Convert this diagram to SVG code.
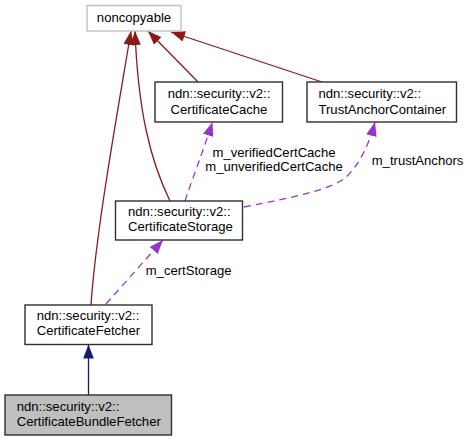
<svg xmlns="http://www.w3.org/2000/svg" width="470" height="441" viewBox="0 0 470 441">
<style>
text{font-family:"Liberation Sans",Arial,sans-serif;font-size:13.1px;fill:#000}
.box{fill:#fff;stroke:#303030;stroke-width:1.4}
.gray{fill:#fff;stroke:#bfbfbf;stroke-width:1.4}
.sel{fill:#bfbfbf;stroke:#303030;stroke-width:1.4}
.inh{fill:none;stroke:#8b1a1a;stroke-width:1.3}
.blue{fill:none;stroke:#191970;stroke-width:1.3}
.use{fill:none;stroke:#9a32cd;stroke-width:1.3;stroke-dasharray:7,5}
.m{text-anchor:middle}
</style>
<defs>
<marker id="ar" markerUnits="userSpaceOnUse" markerWidth="14" markerHeight="11" refX="14" refY="5.3" orient="auto"><path d="M0,0 L14,5.3 L0,10.6 z" fill="#8b1a1a"/></marker>
<marker id="ab" markerUnits="userSpaceOnUse" markerWidth="14" markerHeight="11" refX="14" refY="5.3" orient="auto"><path d="M0,0 L14,5.3 L0,10.6 z" fill="#191970"/></marker>
<marker id="ap" markerUnits="userSpaceOnUse" markerWidth="14" markerHeight="11" refX="14" refY="5.3" orient="auto"><path d="M0,0 L14,5.3 L0,10.6 z" fill="#9a32cd"/></marker>
</defs>
<g id="edges">
<path class="inh" d="M91,305 C96,230 118,110 131,31" marker-end="url(#ar)"/>
<path class="inh" d="M170,201 C150,160 138,110 135,31" marker-end="url(#ar)"/>
<path class="inh" d="M198,82 L148,31" marker-end="url(#ar)"/>
<path class="inh" d="M322,82 L171,32" marker-end="url(#ar)"/>
<path class="use" d="M185,201 C190,185 200,160 212.5,122" marker-end="url(#ap)"/>
<path class="use" d="M244,207 C290,198 330,190 345,178 C358,167 369,145 375,122" marker-end="url(#ap)"/>
<path class="use" d="M106,304 L163,240" marker-end="url(#ap)"/>
<path class="blue" d="M88.5,395 L88.5,344.5" marker-end="url(#ab)"/>
<text x="274" y="157" class="m">m_verifiedCertCache</text>
<text x="274" y="171" class="m">m_unverifiedCertCache</text>
<text x="371.7" y="164.5">m_trustAnchors</text>
<text x="145.7" y="275">m_certStorage</text>
</g>
<g id="noncopyable">
<rect class="gray" x="87" y="5.5" width="94" height="25.5"/>
<text x="134" y="22" class="m">noncopyable</text>
</g>
<g id="CertificateCache">
<rect class="box" x="155" y="82" width="127.5" height="40"/>
<text x="219" y="98" class="m">ndn::security::v2::</text>
<text x="219" y="114" class="m">CertificateCache</text>
</g>
<g id="TrustAnchorContainer">
<rect class="box" x="307" y="82" width="149.5" height="40"/>
<text x="318.5" y="98">ndn::security::v2::</text>
<text x="318.5" y="114">TrustAnchorContainer</text>
</g>
<g id="CertificateStorage">
<rect class="box" x="115.5" y="201" width="127" height="39"/>
<text x="128" y="216">ndn::security::v2::</text>
<text x="128" y="231">CertificateStorage</text>
</g>
<g id="CertificateFetcher">
<rect class="box" x="25" y="305" width="127" height="39.5"/>
<text x="36.7" y="320">ndn::security::v2::</text>
<text x="36.7" y="335">CertificateFetcher</text>
</g>
<g id="CertificateBundleFetcher">
<rect class="sel" x="5" y="395" width="166.5" height="40"/>
<text x="16.7" y="410.5">ndn::security::v2::</text>
<text x="16.7" y="426">CertificateBundleFetcher</text>
</g>
</svg>
